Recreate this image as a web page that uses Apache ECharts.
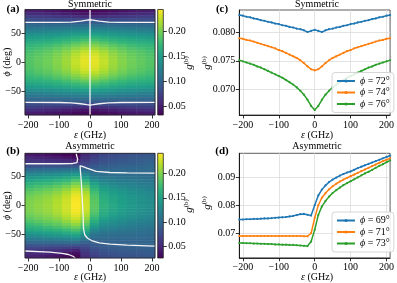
<!DOCTYPE html>
<html><head><meta charset="utf-8">
<script src="https://cdn.jsdelivr.net/npm/echarts@6/dist/echarts.min.js"></script>
<style>html,body{margin:0;padding:0;background:#fff}#c{width:397px;height:283px}</style>
</head><body><div id="c"></div>
<script>
// ---------- tick labels ----------
const epsTicks = [-200, -100, 0, 100, 200];
const phiTicks = [-50, 0, 50];
const cbarTicks = [0.05, 0.10, 0.15, 0.20];
const cTicks = [0.070, 0.075, 0.080];
const dTicks = [0.07, 0.08, 0.09];

// ---------- heatmap cells ----------
const epsCells = [-195, -165, -135, -105, -75, -45, -15, 15, 45, 75, 105, 135, 165, 195];
const phiCells = [87.5, 82.5, 77.5, 72.5, 67.5, 62.5, 57.5, 52.5, 47.5, 42.5, 37.5, 32.5, 27.5, 22.5, 17.5, 12.5, 7.5, 2.5,
  -2.5, -7.5, -12.5, -17.5, -22.5, -27.5, -32.5, -37.5, -42.5, -47.5, -52.5, -57.5, -62.5, -67.5, -72.5, -77.5, -82.5, -87.5];

// (a) symmetric: one array per epsilon column (epsCells order), phi from 87.5 down to -87.5
const gSymCols = [
  [0.050,0.060,0.072,0.083,0.094,0.105,0.116,0.127,0.138,0.148,0.157,0.165,0.172,0.177,0.181,0.184,0.186,0.187,0.187,0.186,0.184,0.181,0.177,0.172,0.165,0.157,0.148,0.138,0.127,0.116,0.105,0.094,0.083,0.072,0.060,0.050],
  [0.049,0.058,0.071,0.082,0.094,0.106,0.117,0.128,0.139,0.149,0.159,0.167,0.175,0.181,0.186,0.189,0.191,0.192,0.192,0.191,0.189,0.186,0.181,0.175,0.167,0.159,0.149,0.139,0.128,0.117,0.106,0.094,0.082,0.071,0.058,0.049],
  [0.047,0.056,0.069,0.082,0.094,0.106,0.118,0.130,0.141,0.151,0.161,0.170,0.178,0.185,0.190,0.194,0.196,0.197,0.197,0.196,0.194,0.190,0.185,0.178,0.170,0.161,0.151,0.141,0.130,0.118,0.106,0.094,0.082,0.069,0.056,0.047],
  [0.045,0.054,0.067,0.081,0.094,0.107,0.120,0.132,0.143,0.154,0.165,0.175,0.184,0.191,0.197,0.201,0.203,0.204,0.204,0.203,0.201,0.197,0.191,0.184,0.175,0.165,0.154,0.143,0.132,0.120,0.107,0.094,0.081,0.067,0.054,0.045],
  [0.042,0.051,0.065,0.080,0.095,0.108,0.121,0.134,0.146,0.158,0.169,0.180,0.190,0.198,0.205,0.209,0.212,0.213,0.213,0.212,0.209,0.205,0.198,0.190,0.180,0.169,0.158,0.146,0.134,0.121,0.108,0.095,0.080,0.065,0.051,0.042],
  [0.039,0.048,0.062,0.079,0.095,0.109,0.123,0.136,0.149,0.162,0.175,0.187,0.198,0.207,0.215,0.220,0.223,0.225,0.225,0.223,0.220,0.215,0.207,0.198,0.187,0.175,0.162,0.149,0.136,0.123,0.109,0.095,0.079,0.062,0.048,0.039],
  [0.037,0.045,0.060,0.078,0.095,0.110,0.124,0.138,0.152,0.166,0.180,0.193,0.205,0.215,0.224,0.230,0.234,0.236,0.236,0.234,0.230,0.224,0.215,0.205,0.193,0.180,0.166,0.152,0.138,0.124,0.110,0.095,0.078,0.060,0.045,0.037],
  [0.037,0.045,0.060,0.078,0.095,0.110,0.124,0.138,0.152,0.166,0.180,0.193,0.205,0.215,0.224,0.230,0.234,0.236,0.236,0.234,0.230,0.224,0.215,0.205,0.193,0.180,0.166,0.152,0.138,0.124,0.110,0.095,0.078,0.060,0.045,0.037],
  [0.039,0.048,0.062,0.079,0.095,0.109,0.123,0.136,0.149,0.162,0.175,0.187,0.198,0.207,0.215,0.220,0.223,0.225,0.225,0.223,0.220,0.215,0.207,0.198,0.187,0.175,0.162,0.149,0.136,0.123,0.109,0.095,0.079,0.062,0.048,0.039],
  [0.042,0.051,0.065,0.080,0.095,0.108,0.121,0.134,0.146,0.158,0.169,0.180,0.190,0.198,0.205,0.209,0.212,0.213,0.213,0.212,0.209,0.205,0.198,0.190,0.180,0.169,0.158,0.146,0.134,0.121,0.108,0.095,0.080,0.065,0.051,0.042],
  [0.045,0.054,0.067,0.081,0.094,0.107,0.120,0.132,0.143,0.154,0.165,0.175,0.184,0.191,0.197,0.201,0.203,0.204,0.204,0.203,0.201,0.197,0.191,0.184,0.175,0.165,0.154,0.143,0.132,0.120,0.107,0.094,0.081,0.067,0.054,0.045],
  [0.047,0.056,0.069,0.082,0.094,0.106,0.118,0.130,0.141,0.151,0.161,0.170,0.178,0.185,0.190,0.194,0.196,0.197,0.197,0.196,0.194,0.190,0.185,0.178,0.170,0.161,0.151,0.141,0.130,0.118,0.106,0.094,0.082,0.069,0.056,0.047],
  [0.049,0.058,0.071,0.082,0.094,0.106,0.117,0.128,0.139,0.149,0.159,0.167,0.175,0.181,0.186,0.189,0.191,0.192,0.192,0.191,0.189,0.186,0.181,0.175,0.167,0.159,0.149,0.139,0.128,0.117,0.106,0.094,0.082,0.071,0.058,0.049],
  [0.050,0.060,0.072,0.083,0.094,0.105,0.116,0.127,0.138,0.148,0.157,0.165,0.172,0.177,0.181,0.184,0.186,0.187,0.187,0.186,0.184,0.181,0.177,0.172,0.165,0.157,0.148,0.138,0.127,0.116,0.105,0.094,0.083,0.072,0.060,0.050]
];
// (b) asymmetric
const gAsymCols = [
  [0.042,0.050,0.058,0.065,0.080,0.097,0.113,0.127,0.140,0.152,0.163,0.172,0.180,0.187,0.192,0.196,0.198,0.199,0.199,0.198,0.196,0.192,0.187,0.181,0.173,0.164,0.154,0.142,0.129,0.115,0.100,0.086,0.073,0.063,0.055,0.048],
  [0.040,0.048,0.057,0.065,0.081,0.098,0.115,0.130,0.143,0.156,0.167,0.177,0.185,0.192,0.197,0.201,0.203,0.204,0.204,0.203,0.201,0.197,0.192,0.186,0.178,0.168,0.157,0.145,0.131,0.117,0.102,0.087,0.073,0.062,0.053,0.046],
  [0.037,0.046,0.055,0.064,0.082,0.100,0.117,0.132,0.146,0.159,0.171,0.181,0.190,0.197,0.202,0.206,0.208,0.209,0.209,0.208,0.206,0.202,0.197,0.191,0.183,0.173,0.161,0.148,0.134,0.119,0.103,0.087,0.072,0.060,0.050,0.043],
  [0.034,0.043,0.053,0.063,0.082,0.101,0.119,0.135,0.150,0.164,0.176,0.187,0.196,0.203,0.209,0.213,0.215,0.216,0.216,0.215,0.213,0.209,0.203,0.196,0.188,0.178,0.166,0.152,0.137,0.121,0.104,0.087,0.070,0.057,0.046,0.039],
  [0.030,0.039,0.050,0.062,0.083,0.103,0.122,0.139,0.155,0.170,0.183,0.195,0.205,0.213,0.219,0.223,0.225,0.226,0.226,0.225,0.223,0.219,0.213,0.205,0.196,0.185,0.172,0.157,0.141,0.124,0.106,0.087,0.068,0.052,0.040,0.033],
  [0.028,0.034,0.047,0.062,0.084,0.106,0.126,0.145,0.163,0.180,0.195,0.208,0.219,0.227,0.233,0.237,0.239,0.240,0.240,0.239,0.236,0.231,0.224,0.215,0.205,0.193,0.179,0.163,0.146,0.128,0.108,0.087,0.066,0.048,0.036,0.030],
  [0.052,0.058,0.064,0.070,0.080,0.095,0.112,0.129,0.146,0.162,0.177,0.191,0.203,0.212,0.219,0.223,0.225,0.226,0.226,0.224,0.220,0.214,0.206,0.197,0.186,0.174,0.160,0.145,0.129,0.112,0.096,0.083,0.073,0.066,0.060,0.055],
  [0.064,0.069,0.074,0.078,0.087,0.093,0.100,0.110,0.122,0.135,0.148,0.159,0.168,0.175,0.180,0.183,0.185,0.186,0.186,0.184,0.181,0.176,0.169,0.160,0.150,0.139,0.128,0.117,0.107,0.099,0.093,0.088,0.083,0.078,0.073,0.069],
  [0.072,0.076,0.080,0.084,0.091,0.096,0.100,0.106,0.114,0.123,0.132,0.140,0.147,0.153,0.157,0.160,0.162,0.163,0.163,0.161,0.158,0.154,0.148,0.141,0.134,0.126,0.118,0.110,0.103,0.098,0.094,0.091,0.088,0.084,0.080,0.076],
  [0.076,0.080,0.083,0.087,0.093,0.097,0.100,0.105,0.112,0.119,0.127,0.134,0.140,0.145,0.149,0.152,0.153,0.154,0.154,0.152,0.150,0.146,0.141,0.135,0.129,0.122,0.115,0.108,0.102,0.098,0.095,0.092,0.090,0.087,0.083,0.079],
  [0.079,0.082,0.085,0.089,0.094,0.098,0.100,0.104,0.110,0.116,0.123,0.129,0.135,0.139,0.143,0.145,0.147,0.147,0.147,0.146,0.143,0.140,0.135,0.130,0.124,0.118,0.112,0.106,0.101,0.098,0.096,0.093,0.091,0.088,0.085,0.082],
  [0.082,0.085,0.088,0.091,0.096,0.099,0.100,0.103,0.108,0.114,0.120,0.125,0.130,0.134,0.137,0.139,0.141,0.141,0.141,0.140,0.137,0.134,0.130,0.125,0.120,0.115,0.110,0.105,0.101,0.098,0.096,0.094,0.092,0.089,0.086,0.083],
  [0.084,0.087,0.090,0.093,0.097,0.099,0.100,0.102,0.107,0.112,0.117,0.122,0.126,0.130,0.133,0.135,0.136,0.136,0.136,0.135,0.133,0.130,0.126,0.122,0.117,0.112,0.108,0.104,0.100,0.098,0.096,0.095,0.093,0.090,0.087,0.084],
  [0.086,0.089,0.092,0.095,0.098,0.100,0.100,0.102,0.106,0.110,0.115,0.119,0.123,0.127,0.129,0.131,0.132,0.132,0.132,0.131,0.129,0.127,0.123,0.119,0.115,0.110,0.106,0.102,0.099,0.097,0.096,0.095,0.093,0.091,0.088,0.085]
];

// ---------- white contour lines [eps, phi] ----------
const contA1 = [[-210,68],[-100,68.2],[-60,68.6],[-30,70],[-10,71.8],[0,72.5],[10,71.8],[30,70],[60,68.6],[100,68.2],[210,68]];
const contA2 = [[-210,-68.5],[-100,-68.7],[-60,-69.2],[-30,-70.8],[-10,-72.3],[0,-73],[10,-72.3],[30,-70.8],[60,-69.2],[100,-68.7],[210,-68.5]];
const contA3 = [[0,-90],[0,90]];
const contB1 = [[-210,72],[-100,72],[-55,72.5],[-42,74],[-40,80],[-43,86],[-45,90]];
const contB2 = [[210,56],[120,56.5],[65,57],[20,59],[-10,64.5],[-25,67.5],[-32,68.5],[-31,60],[-28,40],[-26,20],[-24,0],[-22,-20],[-21,-40],[-17,-50],[-8,-56],[5,-60],[30,-64],[65,-66],[120,-68],[210,-69.5]];
const contB3 = [[-210,-78],[-130,-80],[-90,-82],[-70,-84],[-55,-87],[-48,-90]];

// ---------- line panels ----------
const eps = [-210,-200,-190,-180,-170,-160,-150,-140,-130,-120,-110,-100,-90,-80,-70,-60,-50,-40,-30,-20,-10,0,10,20,30,40,50,60,70,80,90,100,110,120,130,140,150,160,170,180,190,200,210];
const cNames = ['ϕ = 72°', 'ϕ = 74°', 'ϕ = 76°'];
const cPhi72 = [0.0831,0.0830,0.0828,0.0827,0.0825,0.0824,0.0822,0.0821,0.0819,0.0818,0.0816,0.0815,0.0813,0.0812,0.0810,0.0809,0.0807,0.0806,0.0804,0.0801,0.0803,0.0805,0.0803,0.0801,0.0804,0.0806,0.0807,0.0809,0.0810,0.0812,0.0813,0.0815,0.0816,0.0818,0.0819,0.0821,0.0822,0.0824,0.0825,0.0827,0.0828,0.0830,0.0831];
const cPhi74 = [0.0790,0.0789,0.0787,0.0786,0.0784,0.0782,0.0780,0.0778,0.0776,0.0774,0.0772,0.0769,0.0767,0.0764,0.0761,0.0758,0.0755,0.0751,0.0746,0.0740,0.0735,0.0733,0.0735,0.0740,0.0746,0.0751,0.0755,0.0758,0.0761,0.0764,0.0767,0.0769,0.0772,0.0774,0.0776,0.0778,0.0780,0.0782,0.0784,0.0786,0.0787,0.0789,0.0790];
const cPhi76 = [0.0751,0.0749,0.0747,0.0745,0.0743,0.0740,0.0738,0.0735,0.0732,0.0729,0.0726,0.0723,0.0720,0.0716,0.0712,0.0708,0.0703,0.0697,0.0690,0.0681,0.0670,0.0663,0.0670,0.0681,0.0690,0.0697,0.0703,0.0708,0.0712,0.0716,0.0720,0.0723,0.0726,0.0729,0.0732,0.0735,0.0738,0.0740,0.0743,0.0745,0.0747,0.0749,0.0751];
const dNames = ['ϕ = 69°', 'ϕ = 71°', 'ϕ = 73°'];
const dPhi69 = [0.0749,0.0749,0.0750,0.0750,0.0751,0.0751,0.0752,0.0753,0.0753,0.0754,0.0755,0.0756,0.0757,0.0758,0.0760,0.0762,0.0765,0.0768,0.0769,0.0766,0.0763,0.0800,0.0835,0.0856,0.0871,0.0883,0.0892,0.0899,0.0906,0.0912,0.0917,0.0921,0.0927,0.0933,0.0938,0.0943,0.0948,0.0953,0.0958,0.0963,0.0968,0.0973,0.0978];
const dPhi71 = [0.0690,0.0690,0.0690,0.0690,0.0690,0.0690,0.0690,0.0690,0.0690,0.0690,0.0690,0.0690,0.0690,0.0690,0.0690,0.0690,0.0690,0.0690,0.0689,0.0689,0.0700,0.0755,0.0800,0.0827,0.0843,0.0857,0.0868,0.0877,0.0885,0.0892,0.0898,0.0904,0.0910,0.0916,0.0922,0.0928,0.0934,0.0940,0.0946,0.0952,0.0958,0.0963,0.0968];
const dPhi73 = [0.0665,0.0665,0.0664,0.0664,0.0663,0.0663,0.0662,0.0662,0.0661,0.0661,0.0660,0.0660,0.0659,0.0659,0.0658,0.0658,0.0657,0.0656,0.0655,0.0654,0.0670,0.0712,0.0765,0.0796,0.0815,0.0831,0.0844,0.0854,0.0863,0.0872,0.0879,0.0886,0.0893,0.0900,0.0907,0.0914,0.0920,0.0927,0.0934,0.0941,0.0947,0.0954,0.0961];

// ---------- styling ----------
const FONT = 'Liberation Serif';
const viridis = ['#440154','#482878','#3e4989','#31688e','#26828e','#1f9e89','#35b779','#6ece58','#b5de2b','#fde725'];
const tabColors = ['#1f77b4', '#ff7f0e', '#2ca02c'];
const minus = v => (v < 0 ? '\u2212' + Math.abs(v) : String(v));

function cells(cols) {
  const out = [];
  cols.forEach((col, i) => col.forEach((v, j) => out.push([i, j, v])));
  return out;
}
const pairs = ys => eps.map((e, i) => [e, ys[i]]);

const L = { a: [25, 9.5, 130, 105.5], b: [25, 153.3, 130, 104.7], c: [239.3, 10, 155, 105], d: [239.3, 153.3, 155, 104.5] };
const g = (r, extra) => Object.assign({ left: r[0], top: r[1], width: r[2], height: r[3], containLabel: false }, extra || {});
const gradFill = { type: 'linear', x: 0, y: 1, x2: 0, y2: 0, colorStops: viridis.map((c, i) => ({ offset: i / (viridis.length - 1), color: c })) };

const tickStyle = { show: true, length: 3.5, lineStyle: { color: '#000', width: 0.8 } };
const lblStyle = { fontFamily: FONT, fontSize: 10, color: '#000' };
const gridLine = { show: true, lineStyle: { color: '#dcdcdc', width: 0.8 } };

function valX(gi, withGrid) {
  return { type: 'value', gridIndex: gi, min: -210, max: 210,
    axisLine: { show: withGrid, onZero: false, lineStyle: { color: '#000', width: 0.8 } },
    axisTick: Object.assign({ customValues: epsTicks }, tickStyle),
    axisLabel: Object.assign({ customValues: epsTicks, formatter: minus, margin: 5 }, lblStyle),
    splitLine: withGrid ? gridLine : { show: false } };
}
function catAxis(gi, data, inv) {
  return { type: 'category', gridIndex: gi, data: data, inverse: !!inv, show: false, boundaryGap: true };
}
function cbarY(gi, mn, mx) {
  return { type: 'value', gridIndex: gi, min: mn, max: mx, position: 'right',
    axisLine: { show: false, onZero: false }, splitLine: { show: false },
    axisTick: Object.assign({ customValues: cbarTicks }, tickStyle),
    axisLabel: Object.assign({ customValues: cbarTicks, formatter: v => v.toFixed(2), margin: 5 }, lblStyle) };
}
const hiddenX = gi => ({ type: 'value', gridIndex: gi, min: 0, max: 1, show: false });
function phiY(gi) {
  return { type: 'value', gridIndex: gi, min: -90, max: 90, axisLine: { show: false, onZero: false }, splitLine: { show: false },
    axisTick: Object.assign({ customValues: phiTicks }, tickStyle),
    axisLabel: Object.assign({ customValues: phiTicks, formatter: minus, margin: 4 }, lblStyle) };
}
function lineY(gi, mn, mx, ticks, dec) {
  return { type: 'value', gridIndex: gi, min: mn, max: mx,
    axisLine: { show: true, onZero: false, lineStyle: { color: '#000', width: 0.8 } },
    axisTick: Object.assign({ customValues: ticks }, tickStyle),
    axisLabel: Object.assign({ customValues: ticks, formatter: v => v.toFixed(dec), margin: 4 }, lblStyle),
    splitLine: gridLine };
}
function legendAt(names, top) {
  return { data: names, left: 332, top: top, orient: 'vertical', itemWidth: 18, itemHeight: 4, itemGap: 0.5,
    padding: [3, 4, 3, 4], borderColor: '#ccc', borderWidth: 0.8, borderRadius: 3, backgroundColor: 'rgba(255,255,255,0.85)',
    formatter: n => '{i|ϕ}' + n.slice(1),
    textStyle: { fontFamily: FONT, fontSize: 10, color: '#000', lineHeight: 11, rich: { i: { fontStyle: 'italic', fontFamily: FONT, fontSize: 10, lineHeight: 11 } } } };
}

const option = {
  animation: false,
  backgroundColor: '#fff',
  grid: [
    g(L.a, { show: true, z: 10, borderColor: '#222', borderWidth: 0.8, backgroundColor: 'transparent' }),
    g(L.a),
    g([157.7, 9.5, 5.6, 105.5], { show: true, borderColor: '#222', borderWidth: 0.8, backgroundColor: gradFill }),
    g(L.b, { show: true, z: 10, borderColor: '#222', borderWidth: 0.8, backgroundColor: 'transparent' }),
    g(L.b),
    g([157.7, 153.3, 5.6, 104.7], { show: true, borderColor: '#222', borderWidth: 0.8, backgroundColor: gradFill }),
    g(L.c, { show: true, borderColor: '#333', borderWidth: 0.8 }),
    g(L.d, { show: true, borderColor: '#333', borderWidth: 0.8 })
  ],
  xAxis: [
    valX(0, false), catAxis(1, epsCells), hiddenX(2),
    valX(3, false), catAxis(4, epsCells), hiddenX(5),
    valX(6, true), valX(7, true)
  ],
  yAxis: [
    phiY(0), catAxis(1, phiCells, true), cbarY(2, 0.033, 0.244),
    phiY(3), catAxis(4, phiCells, true), cbarY(5, 0.027, 0.241),
    lineY(6, 0.0654, 0.0840, cTicks, 3),
    lineY(7, 0.0612, 0.0986, dTicks, 2)
  ],
  visualMap: [
    { type: 'continuous', show: false, seriesIndex: 0, dimension: 2, min: 0.033, max: 0.244, inRange: { color: viridis } },
    { type: 'continuous', show: false, seriesIndex: 1, dimension: 2, min: 0.027, max: 0.241, inRange: { color: viridis } }
  ],
  legend: [legendAt(cNames, 72.5), legendAt(dNames, 212)],
  series: [
    { type: 'heatmap', xAxisIndex: 1, yAxisIndex: 1, data: cells(gSymCols), z: 1 },
    { type: 'heatmap', xAxisIndex: 4, yAxisIndex: 4, data: cells(gAsymCols), z: 1 }
  ].concat(
    [contA1, contA2, contA3].map(d => ({ type: 'line', xAxisIndex: 0, yAxisIndex: 0, data: d, showSymbol: false, symbol: 'none', z: 5, lineStyle: { color: '#f4f4f4', width: 1.3 } })),
    [contB1, contB2, contB3].map(d => ({ type: 'line', xAxisIndex: 3, yAxisIndex: 3, data: d, showSymbol: false, symbol: 'none', z: 5, lineStyle: { color: '#f4f4f4', width: 1.3 } })),
    [cPhi72, cPhi74, cPhi76].map((d, i) => ({ type: 'line', name: cNames[i], xAxisIndex: 6, yAxisIndex: 6, data: pairs(d),
      symbol: 'circle', symbolSize: 2.2, color: tabColors[i], lineStyle: { width: 1.5 }, z: 3 })),
    [dPhi69, dPhi71, dPhi73].map((d, i) => ({ type: 'line', name: dNames[i], xAxisIndex: 7, yAxisIndex: 7, data: pairs(d),
      symbol: 'circle', symbolSize: 2.2, color: tabColors[i], lineStyle: { width: 1.5 }, z: 3 }))
  ),
  graphic: (function () {
    const t = (x, y, text, extra) => ({ type: 'text', x: x, y: y, z: 20, style: Object.assign({ text: text, align: 'center', verticalAlign: 'middle', fontFamily: FONT, fontSize: 10, fill: '#000' }, extra || {}) });
    const rot = (x, y, text, rich) => ({ type: 'text', x: x, y: y, rotation: Math.PI / 2, z: 20, style: { text: text, align: 'center', verticalAlign: 'middle', fontFamily: FONT, fontSize: 10, fill: '#000', rich: rich } });
    const richG = { g: { fontStyle: 'italic', fontFamily: FONT, fontSize: 11 }, s: { fontFamily: FONT, fontSize: 7, verticalAlign: 'top', padding: [0, 0, 6, 0] } };
    const richP = { i: { fontStyle: 'italic', fontFamily: FONT, fontSize: 10 }, n: { fontFamily: FONT, fontSize: 10 } };
    return [
      t(13, 9.5, '(a)', { fontWeight: 'bold', fontSize: 11 }),
      t(13, 151, '(b)', { fontWeight: 'bold', fontSize: 11 }),
      t(222, 9.5, '(c)', { fontWeight: 'bold', fontSize: 11 }),
      t(222, 151, '(d)', { fontWeight: 'bold', fontSize: 11 }),
      t(90, 4.5, 'Symmetric'), t(90, 146.5, 'Asymmetric'),
      t(317, 4.5, 'Symmetric'), t(317, 146.5, 'Asymmetric'),
      t(90, 135, '{i|ε} {n|(GHz)}', { rich: richP }), t(90, 277, '{i|ε} {n|(GHz)}', { rich: richP }),
      t(317, 135, '{i|ε} {n|(GHz)}', { rich: richP }), t(317, 277, '{i|ε} {n|(GHz)}', { rich: richP }),
      rot(7, 62, '{i|ϕ} {n|(deg)}', richP), rot(7, 205.7, '{i|ϕ} {n|(deg)}', richP),
      rot(189, 63, '{g|g}{s|(b)}', richG), rot(189, 206, '{g|g}{s|(b)}', richG),
      rot(207, 63, '{g|g}{s|(b)}', richG), rot(207, 203, '{g|g}{s|(b)}', richG)
    ];
  })()
};
const chart = echarts.init(document.getElementById('c'), null, { renderer: 'canvas' });
chart.setOption(option);
</script></body></html>
